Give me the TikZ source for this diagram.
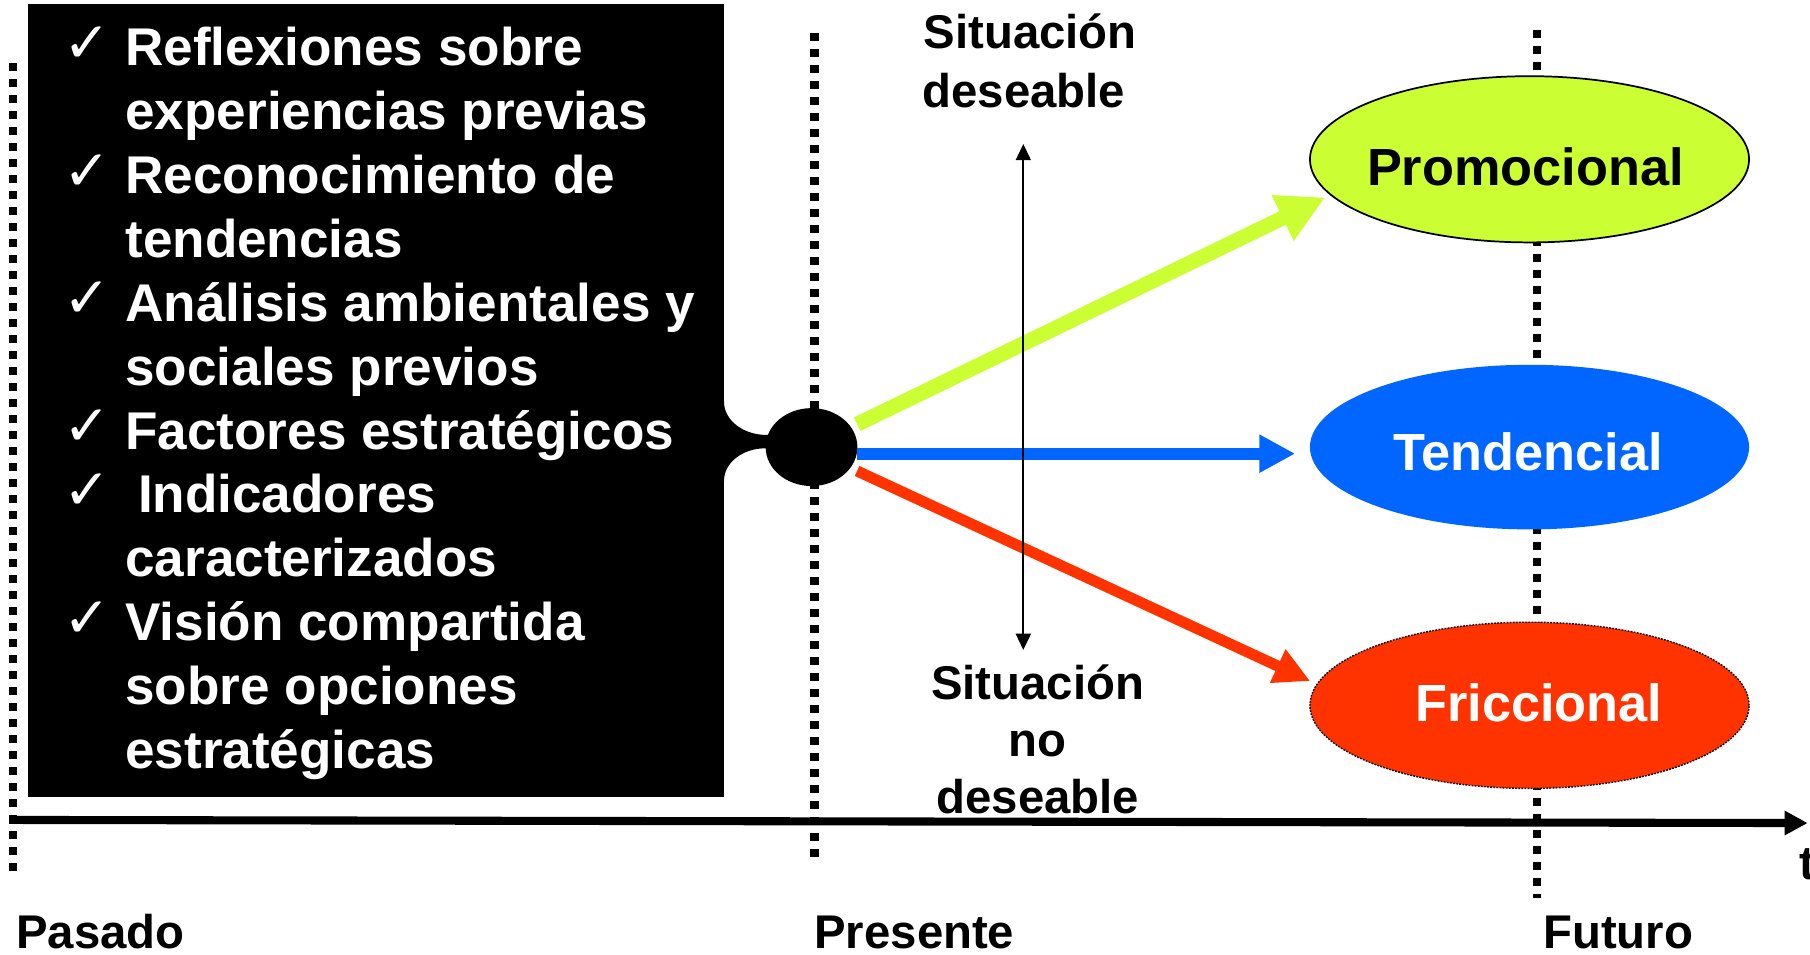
\documentclass[tikz,border=0pt]{standalone}
\usepackage{fontspec}
\setmainfont{Liberation Sans}
\newfontfamily\symfont{DejaVu Sans}
\usetikzlibrary{arrows.meta,shapes.geometric}
\definecolor{limeC}{HTML}{CCFF33}
\definecolor{blueC}{HTML}{0066FF}
\definecolor{redC}{HTML}{FF3300}
\tikzset{
  dotline/.style={line width=7pt, dash pattern=on 6.93pt off 6.93pt},
  listtxt/.style={text=white, font=\fontsize{46}{55}\selectfont\bfseries, anchor=base west, inner sep=0pt},
  chk/.style={text=white, font=\symfont\fontsize{49}{49}\selectfont, anchor=base west, inner sep=0pt},
  lbl/.style={font=\fontsize{41}{49}\selectfont\bfseries, inner sep=0pt},
  scen/.style={ellipse, minimum width=380.4pt, minimum height=144pt, inner sep=0pt},
  scentxt/.style={font=\fontsize{45.3}{52}\selectfont\bfseries, anchor=base, inner sep=0pt},
  colarrow/.style={line width=#1},
}
\begin{document}
\begin{tikzpicture}[x=1pt,y=-1pt]
\fill[white] (0,0) rectangle (1568,827);
\useasboundingbox (0,0) rectangle (1568,827);

% dotted time lines
\coordinate (pastT) at (11.5,55);
\coordinate (pastB) at (11.5,760);
\coordinate (presT) at (705.6,28.6);
\coordinate (presB) at (705.6,742);
\coordinate (futT) at (1331.5,26.4);
\coordinate (futB) at (1331.5,778);
\draw[dotline] (pastT) -- (pastB);
\draw[dotline] (presT) -- (presB);
\draw[dotline] (futT) -- (futB);

% time axis
\coordinate (axL) at (8,710.3);
\coordinate (axR) at (1566,713);
\draw[line width=7pt, -{Triangle[length=20pt,width=20pt]}] (axL) -- (axR);

% black box with callout
\node[fill=black, anchor=north west, minimum width=602.9pt, minimum height=687.5pt, inner sep=0pt] (box) at (24.3,3) {};
\fill[black] (627.2,348) .. controls (627.2,364) and (643.7,376.8) .. (664.2,376.8)
  -- (690,376.8) -- (690,388.4) -- (662.7,388.4)
  .. controls (643.7,388.4) and (627.2,400.5) .. (627.2,416.5)
  -- (620,416.5) -- (620,348) -- cycle;
\node[ellipse, fill=black, minimum width=79.5pt, minimum height=67.5pt, inner sep=0pt] (hub) at (703,387.3) {};

% scenario ellipses
\node[scen, fill=limeC, draw=black, line width=1.5pt] (promo) at (1325,138) {};
\node[scen, fill=blueC, minimum height=142.6pt] (tend) at (1325,387.3) {};
\node[scen, fill=redC, draw=black, line width=1.2pt, dash pattern=on 1.5pt off 1.2pt] (fric) at (1325,611) {};

% coloured arrows
\coordinate (gS) at (742.5,367.5);
\coordinate (gT) at (1148,171);
\coordinate (bS) at (742.5,393);
\coordinate (bT) at (1122,393);
\coordinate (rS) at (742.5,408);
\coordinate (rT) at (1135,590);
\draw[colarrow=13pt, draw=limeC, -{Triangle[length=41pt,width=41pt]}] (gS) -- (gT);
\draw[colarrow=10.5pt, draw=blueC, -{Triangle[length=31pt,width=31pt]}] (bS) -- (bT);
\draw[colarrow=9.5pt, draw=redC, -{Triangle[length=31pt,width=30pt]}] (rS) -- (rT);

% desirability arrow
\coordinate (dU) at (886.5,124.8);
\coordinate (dD) at (886.5,563);
\draw[line width=1.5pt, {Triangle[length=14pt,width=13pt]}-{Triangle[length=14pt,width=13pt]}] (dU) -- (dD);

% list text
\node[chk] (c1) at (55,54) {✓};
\node[listtxt] (l1) at (108.4,57) {Reflexiones sobre};
\node[listtxt] (l2) at (108.4,112.3) {experiencias previas};
\node[chk] (c2) at (55,164.7) {✓};
\node[listtxt] (l3) at (108.4,167.7) {Reconocimiento de};
\node[listtxt] (l4) at (108.4,223) {tendencias};
\node[chk] (c3) at (55,275.3) {✓};
\node[listtxt] (l5) at (108.4,278.3) {Análisis ambientales y};
\node[listtxt] (l6) at (108.4,333.7) {sociales previos};
\node[chk] (c4) at (55,386) {✓};
\node[listtxt] (l7) at (108.4,389) {Factores estratégicos};
\node[chk] (c5) at (55,441.3) {✓};
\node[listtxt] (l8) at (119.4,444.3) {Indicadores};
\node[listtxt] (l9) at (108.4,499.7) {caracterizados};
\node[chk] (c6) at (55,552) {✓};
\node[listtxt] (l10) at (108.4,555) {Visión compartida};
\node[listtxt] (l11) at (108.4,610.3) {sobre opciones};
\node[listtxt] (l12) at (108.4,665.7) {estratégicas};

% scenario labels
\node[scentxt] (promoT) at (1321.5,161) {Promocional};
\node[scentxt, text=white] (tendT) at (1324,407.8) {Tendencial};
\node[scentxt, text=white] (fricT) at (1333,625) {Friccional};

% situation labels
\node[lbl, anchor=base west] (sd1) at (800,41.9) {Situación};
\node[lbl, anchor=base west] (sd2) at (799,93) {deseable};
\node[lbl, anchor=base] (sn1) at (899,605.8) {Situación};
\node[lbl, anchor=base] (sn2) at (899,655.5) {no};
\node[lbl, anchor=base] (sn3) at (899,704.6) {deseable};

% time labels
\node[lbl, anchor=base west] (pasado) at (14,821.5) {Pasado};
\node[lbl, anchor=base west] (presente) at (705.3,821.5) {Presente};
\node[lbl, anchor=base west] (futuro) at (1336.8,821.5) {Futuro};
\node[lbl, anchor=base west] (tlab) at (1558.6,762) {t};
\end{tikzpicture}
\end{document}
